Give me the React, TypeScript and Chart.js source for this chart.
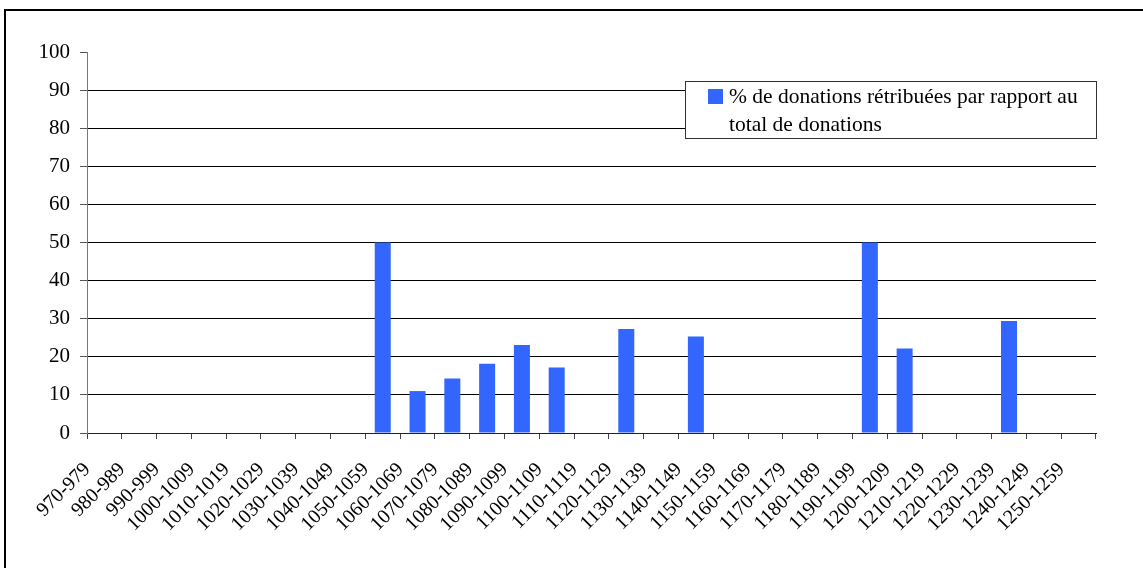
import React, { useEffect, useRef } from "react";
import { Chart, registerables } from "chart.js";

Chart.register(...registerables);

const categories: string[] = [
  "970-979", "980-989", "990-999", "1000-1009", "1010-1019", "1020-1029",
  "1030-1039", "1040-1049", "1050-1059", "1060-1069", "1070-1079", "1080-1089",
  "1090-1099", "1100-1109", "1110-1119", "1120-1129", "1130-1139", "1140-1149",
  "1150-1159", "1160-1169", "1170-1179", "1180-1189", "1190-1199", "1200-1209",
  "1210-1219", "1220-1229", "1230-1239", "1240-1249", "1250-1259",
];

const seriesLabel = "% de donations rétribuées par rapport au total de donations";
const legendLines: string[] = ["% de donations rétribuées par rapport au", "total de donations"];

const values: (number | null)[] = [
  null, null, null, null, null, null, null, null,
  50, 11, 14.3, 18.2, 23.1, 17.2, null, 27.3, null, 25.3,
  null, null, null, null, 50, 22.2, null, null, 29.4, null, null,
];

const yTicks: number[] = [0, 10, 20, 30, 40, 50, 60, 70, 80, 90, 100];

const FONT = "'Liberation Serif', 'Times New Roman', serif";
const BAR = "#3366FF";

const framePlugin = {
  id: "frame",
  beforeDraw(chart: any) {
    const ctx = chart.ctx;
    ctx.save();
    ctx.fillStyle = "#ffffff";
    ctx.fillRect(0, 0, chart.width, chart.height);
    ctx.strokeStyle = "#000000";
    ctx.lineWidth = 2;
    ctx.strokeRect(5, 10, chart.width + 40, chart.height + 40);
    ctx.restore();
  },
};

const legendPlugin = {
  id: "boxLegend",
  afterDraw(chart: any) {
    const ctx = chart.ctx;
    ctx.save();
    const bx = 685.5, by = 81.5, bw = 411, bh = 57;
    ctx.fillStyle = "#ffffff";
    ctx.fillRect(bx, by, bw, bh);
    ctx.strokeStyle = "#333333";
    ctx.lineWidth = 1;
    ctx.strokeRect(bx, by, bw, bh);
    ctx.fillStyle = chart.data.datasets[0].backgroundColor;
    ctx.fillRect(708, 89, 15, 15);
    ctx.fillStyle = "#000000";
    ctx.font = "21.5px " + FONT;
    ctx.textBaseline = "alphabetic";
    ctx.textAlign = "left";
    ctx.fillText(legendLines[0], 729, 103);
    ctx.fillText(legendLines[1], 729, 131);
    ctx.restore();
  },
};

export default function App() {
  const ref = useRef<HTMLCanvasElement>(null);

  useEffect(() => {
    if (!ref.current) return;
    const chart = new Chart(ref.current, {
      type: "bar",
      data: {
        labels: categories,
        datasets: [
          {
            label: seriesLabel,
            data: values,
            backgroundColor: BAR,
            borderColor: "#7f9fff",
            borderWidth: 0,
            barPercentage: 0.46,
            categoryPercentage: 1,
          },
        ],
      },
      options: {
        responsive: false,
        animation: false,
        layout: { padding: { left: 0, right: 47, top: 52, bottom: 0 } },
        plugins: {
          legend: { display: false },
          tooltip: { enabled: false },
        },
        scales: {
          x: {
            grid: {
              display: true,
              drawOnChartArea: false,
              drawTicks: true,
              tickLength: 6,
              tickColor: "#444444",
              offset: true,
            },
            border: { display: true, color: "#222222", width: 1 },
            ticks: {
              autoSkip: false,
              maxRotation: 45,
              minRotation: 45,
              labelOffset: -17,
              padding: 19,
              color: "#000000",
              font: { family: FONT, size: 20 },
            },
            afterFit: (scale: any) => {
              scale.height = 135;
            },
          },
          y: {
            min: 0,
            max: 100,
            afterBuildTicks: (scale: any) => {
              scale.ticks = yTicks.map((v) => ({ value: v }));
            },
            grid: {
              color: (c: any) => (c.tick && (c.tick.value === 100 || c.tick.value === 0) ? "rgba(0,0,0,0)" : "#000000"),
              tickColor: "#555555",
              tickLength: 7,
              lineWidth: 1,
            },
            border: { display: true, color: "#777777", width: 1 },
            ticks: {
              padding: 10,
              color: "#000000",
              font: { family: FONT, size: 21 },
            },
            afterFit: (scale: any) => {
              scale.width = 87;
            },
          },
        },
      },
      plugins: [framePlugin, legendPlugin],
    });
    return () => chart.destroy();
  }, []);

  return (
    <div style={{ position: "absolute", left: 0, top: 0, width: 1143, height: 568, background: "#fff" }}>
      <canvas ref={ref} width={1143} height={568} style={{ display: "block" }} />
    </div>
  );
}
